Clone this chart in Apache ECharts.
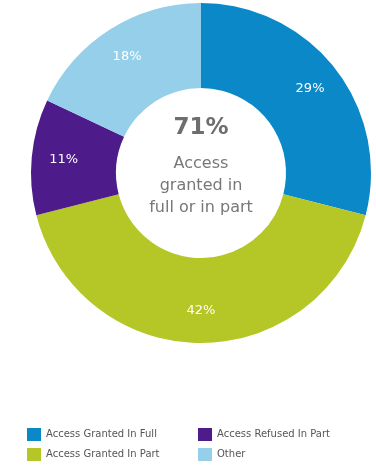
<!DOCTYPE html>
<html>
<head>
<meta charset="utf-8">
<script src="https://cdn.jsdelivr.net/npm/echarts@6/dist/echarts.min.js"></script>
<style>
  html, body { margin: 0; padding: 0; background: #ffffff; }
  #chart { width: 376px; height: 465px; }
</style>
</head>
<body>
<div id="chart"></div>
<script>
// Outcome categories, in clockwise order from 12 o'clock
const categories = ['Access Granted In Full', 'Access Granted In Part', 'Access Refused In Part', 'Other'];
const shares = [29, 42, 11, 18];
const colors = ['#0b88c7', '#b4c726', '#4e1b8b', '#95cfe9'];
const centerValue = '71%';
const centerCaption = ['Access', 'granted in', 'full or in part'];

const chart = echarts.init(document.getElementById('chart'));

const FONT = '"DejaVu Sans", "Liberation Sans", Arial, sans-serif';
const legendText = { fontFamily: FONT, fontSize: 10, color: '#555' };
const legendBase = {
  orient: 'vertical', top: 428, padding: 0,
  itemWidth: 14, itemHeight: 13, itemGap: 7,
  icon: 'rect', textStyle: legendText
};

const pieData = categories.map((name, i) => ({ name, value: shares[i] }));
const ring = { center: [201, 173], startAngle: 90, clockwise: true };

chart.setOption({
  animation: false,
  color: colors,
  legend: [
    Object.assign({}, legendBase, { left: 27, data: [categories[0], categories[1]] }),
    Object.assign({}, legendBase, { left: 198, data: [categories[2], categories[3]] })
  ],
  graphic: [
    {
      type: 'text', x: 201, y: 128,
      style: {
        text: centerValue, fill: '#6e6e6e',
        font: 'bold 23px ' + FONT,
        align: 'center', verticalAlign: 'middle'
      }
    },
    {
      type: 'text', x: 201, y: 186,
      style: {
        text: centerCaption.join('\n'), fill: '#777777',
        font: '16px ' + FONT,
        lineHeight: 22, align: 'center', verticalAlign: 'middle'
      }
    }
  ],
  series: [
    // the coloured ring
    Object.assign({
      type: 'pie',
      radius: [85, 170],
      label: { show: false },
      labelLine: { show: false },
      emphasis: { disabled: true },
      data: pieData
    }, ring),
    // percentage labels, set a little outside the ring's mid line
    Object.assign({
      type: 'pie',
      radius: [100, 170],
      silent: true,
      itemStyle: { color: 'rgba(0,0,0,0)' },
      label: {
        show: true, position: 'inside',
        formatter: '{c}%',
        color: '#ffffff',
        fontFamily: FONT,
        fontSize: 13
      },
      labelLine: { show: false },
      emphasis: { disabled: true },
      data: pieData
    }, ring)
  ]
});
</script>
</body>
</html>
